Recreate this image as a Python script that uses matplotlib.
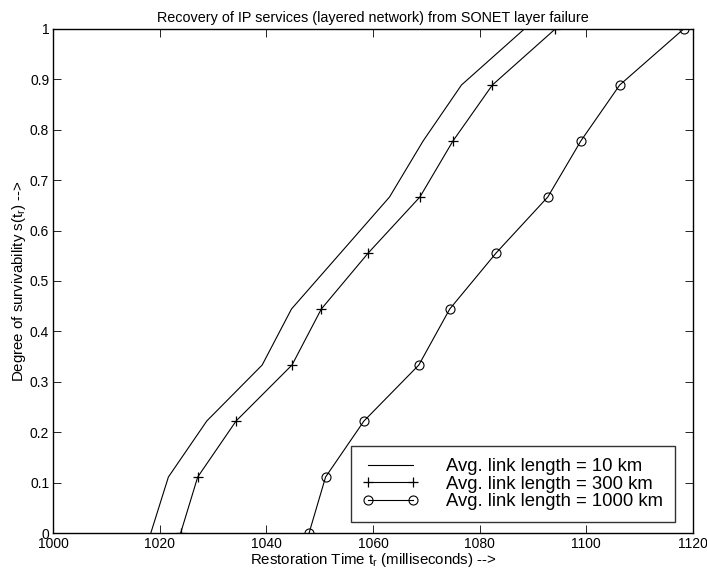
import numpy as np
import matplotlib
matplotlib.use('Agg')
import matplotlib.pyplot as plt

plt.rcParams['font.family'] = ['Liberation Sans', 'DejaVu Sans']
plt.rcParams['mathtext.fontset'] = 'custom'
plt.rcParams['mathtext.rm'] = 'Liberation Sans'
plt.rcParams['mathtext.it'] = 'Liberation Sans'

# grau de sobrevivencia (10 niveis, passo 1/9)
sobrevivencia = np.arange(10) / 9.0

# tempos de restauracao (ms) para cada comprimento medio de enlace
tempo_10km = [1018.3, 1021.6, 1028.8, 1039.2, 1044.7, 1053.9, 1063.1, 1069.4, 1076.6, 1088.4]
tempo_300km = [1023.9, 1027.1, 1034.3, 1044.8, 1050.3, 1059.1, 1068.8, 1075.0, 1082.4, 1094.2]
tempo_1000km = [1048.0, 1051.1, 1058.3, 1068.6, 1074.4, 1083.1, 1092.8, 1099.0, 1106.3, 1118.3]

rotulos = ['Avg. link length = 10 km', 'Avg. link length = 300 km', 'Avg. link length = 1000 km']

fig = plt.figure(figsize=(7.07, 5.73), dpi=100)
ax = fig.add_axes([0.0754, 0.0698, 0.9044, 0.8796])

ax.plot(tempo_10km, sobrevivencia, color='k', lw=0.8, label=rotulos[0])
ax.plot(tempo_300km, sobrevivencia, color='k', lw=0.8, marker='+', ms=7, mew=0.9, label=rotulos[1])
ax.plot(tempo_1000km, sobrevivencia, color='k', lw=0.8, marker='o', ms=6.5, mew=0.8,
        mfc='none', label=rotulos[2])

ax.set_xlim(1000, 1120)
ax.set_ylim(0, 1)
ax.set_xticks(np.arange(1000, 1121, 20))
ax.set_yticks(np.arange(0, 1.01, 0.1))
ax.set_yticklabels(['0'] + ['%.1f' % v for v in np.arange(0.1, 0.95, 0.1)] + ['1'])
ax.tick_params(direction='in', top=True, right=True, length=6, width=0.6, labelsize=10, pad=3)
for s in ax.spines.values():
    s.set_linewidth(1.0)

ax.set_title('Recovery of IP services (layered network) from SONET layer failure', fontsize=10.4, pad=5)
ax.set_xlabel(r'Restoration Time t$_\mathrm{r}$ (milliseconds) -->', fontsize=10.8, labelpad=0)
ax.set_ylabel(r'Degree of survivability s(t$_\mathrm{r}$) -->', fontsize=10.8, labelpad=1)

# legenda com marcadores nas duas pontas da linha
leg = ax.legend(loc='lower right', bbox_to_anchor=(0.9723, 0.0218), borderaxespad=0,
                fontsize=13.3, frameon=True, fancybox=False, edgecolor='k', numpoints=2,
                handlelength=3.0, borderpad=0.65, labelspacing=0.02, handletextpad=1.5)
leg.get_frame().set_linewidth(1.0)

plt.savefig('out.png', dpi=100)
